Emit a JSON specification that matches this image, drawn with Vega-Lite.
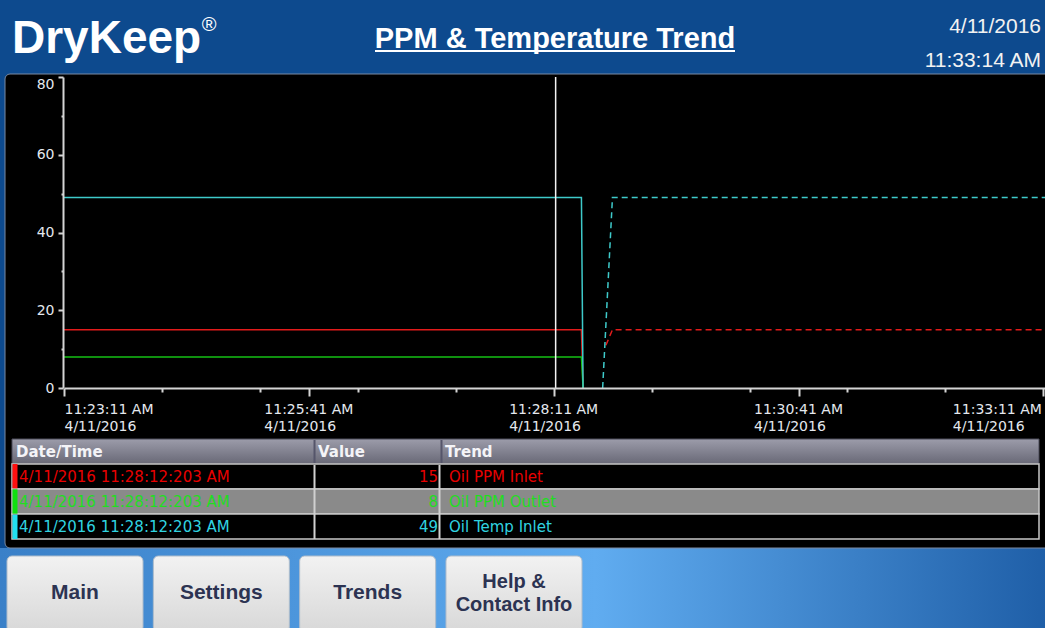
{
  "$schema": "https://vega.github.io/schema/vega-lite/v6.json",
  "width": 1045,
  "height": 628,
  "autosize": {"type": "none"},
  "padding": 0,
  "background": "#0d4a8e",
  "config": {"view": {"stroke": null}},
  "datasets": {
    "series": [
      {"time": "2016-04-11T11:23:11Z", "value": 15, "trend": "Oil PPM Inlet", "segment": "logged"},
      {"time": "2016-04-11T11:28:28Z", "value": 15, "trend": "Oil PPM Inlet", "segment": "logged"},
      {"time": "2016-04-11T11:28:29Z", "value": 0, "trend": "Oil PPM Inlet", "segment": "logged"},
      {"time": "2016-04-11T11:28:43Z", "value": 11, "trend": "Oil PPM Inlet", "segment": "bridged"},
      {"time": "2016-04-11T11:28:47Z", "value": 15, "trend": "Oil PPM Inlet", "segment": "bridged"},
      {"time": "2016-04-11T11:33:12Z", "value": 15, "trend": "Oil PPM Inlet", "segment": "bridged"},
      {"time": "2016-04-11T11:23:11Z", "value": 8, "trend": "Oil PPM Outlet", "segment": "logged"},
      {"time": "2016-04-11T11:28:28Z", "value": 8, "trend": "Oil PPM Outlet", "segment": "logged"},
      {"time": "2016-04-11T11:28:29Z", "value": 0, "trend": "Oil PPM Outlet", "segment": "logged"},
      {"time": "2016-04-11T11:23:11Z", "value": 49, "trend": "Oil Temp Inlet", "segment": "logged"},
      {"time": "2016-04-11T11:28:28Z", "value": 49, "trend": "Oil Temp Inlet", "segment": "logged"},
      {"time": "2016-04-11T11:28:29Z", "value": 0, "trend": "Oil Temp Inlet", "segment": "logged"},
      {"time": "2016-04-11T11:28:41Z", "value": 0, "trend": "Oil Temp Inlet", "segment": "bridged"},
      {"time": "2016-04-11T11:28:47Z", "value": 49, "trend": "Oil Temp Inlet", "segment": "bridged"},
      {"time": "2016-04-11T11:33:12Z", "value": 49, "trend": "Oil Temp Inlet", "segment": "bridged"}
    ],
    "cursor": [{"time": "2016-04-11T11:28:12.203Z"}],
    "readout": [
      {"datetime": "4/11/2016 11:28:12:203 AM", "value": 15, "trend": "Oil PPM Inlet"},
      {"datetime": "4/11/2016 11:28:12:203 AM", "value": 8, "trend": "Oil PPM Outlet"},
      {"datetime": "4/11/2016 11:28:12:203 AM", "value": 49, "trend": "Oil Temp Inlet"}
    ],
    "header": [
      {"brand": "DryKeep", "registered": "®", "title": "PPM & Temperature Trend", "date": "4/11/2016", "clock": "11:33:14 AM"}
    ],
    "nav": [
      {"button": "Main"},
      {"button": "Settings"},
      {"button": "Trends"},
      {"button": "Help &\nContact Info"}
    ]
  },
  "layer": [
    {
      "data": {"values": [{"area": "navigation bar"}]},
      "mark": {"type": "rect", "fill": {"gradient": "linear", "x1": 0, "y1": 0, "x2": 1, "y2": 0, "stops": [{"offset": 0, "color": "#3a80c8"}, {"offset": 0.57, "color": "#60acf0"}, {"offset": 1, "color": "#1f5fa8"}]}},
      "encoding": {
        "y": {"field": "area", "type": "nominal", "scale": {"type": "band", "range": [548, 628], "paddingInner": 0, "paddingOuter": 0}, "axis": null}
      }
    },
    {
      "data": {"values": [{"area": "trend screen"}]},
      "mark": {"type": "rect", "fill": "#000000", "stroke": "#7a8aa3", "strokeWidth": 1, "cornerRadius": 5},
      "encoding": {
        "x": {"field": "area", "type": "nominal", "scale": {"type": "band", "range": [5, 1056], "paddingInner": 0, "paddingOuter": 0}, "axis": null},
        "y": {"field": "area", "type": "nominal", "scale": {"type": "band", "range": [74, 548], "paddingInner": 0, "paddingOuter": 0}, "axis": null}
      }
    },
    {
      "data": {"name": "nav"},
      "mark": {"type": "rect", "fill": {"gradient": "linear", "x1": 0, "y1": 0, "x2": 0, "y2": 1, "stops": [{"offset": 0, "color": "#f2f2f2"}, {"offset": 1, "color": "#d8d8d8"}]}, "stroke": "#aebccb", "strokeWidth": 1, "cornerRadius": 5},
      "encoding": {
        "x": {"field": "button", "type": "nominal", "sort": null, "scale": {"type": "band", "range": [7, 582], "paddingInner": 0.0706, "paddingOuter": 0}, "axis": null},
        "y": {"datum": "navigation", "type": "nominal", "scale": {"type": "band", "domain": ["navigation"], "range": [556, 632], "paddingInner": 0, "paddingOuter": 0}, "axis": null}
      }
    },
    {
      "data": {"name": "nav"},
      "transform": [{"filter": "indexof(datum.button, 'Help') < 0"}],
      "mark": {"type": "text", "font": "Liberation Sans", "fontWeight": "bold", "fontSize": 21, "fill": "#2c3352", "align": "center", "baseline": "middle"},
      "encoding": {
        "x": {"field": "button", "type": "nominal", "scale": {"type": "band", "domain": ["Main", "Settings", "Trends", "Help &\nContact Info"], "range": [7, 582], "paddingInner": 0.0706, "paddingOuter": 0}, "axis": null},
        "y": {"datum": "navigation", "type": "nominal", "scale": {"type": "band", "domain": ["navigation"], "range": [556, 630], "paddingInner": 0, "paddingOuter": 0}, "axis": null},
        "text": {"field": "button", "type": "nominal"}
      }
    },
    {
      "data": {"name": "nav"},
      "transform": [{"filter": "indexof(datum.button, 'Help') >= 0"}],
      "mark": {"type": "text", "font": "Liberation Sans", "fontWeight": "bold", "fontSize": 20, "fill": "#2c3352", "align": "center", "baseline": "middle", "lineBreak": "\n", "lineHeight": 23},
      "encoding": {
        "x": {"field": "button", "type": "nominal", "scale": {"type": "band", "domain": ["Main", "Settings", "Trends", "Help &\nContact Info"], "range": [7, 582], "paddingInner": 0.0706, "paddingOuter": 0}, "axis": null},
        "y": {"datum": "navigation", "type": "nominal", "scale": {"type": "band", "domain": ["navigation"], "range": [556, 608], "paddingInner": 0, "paddingOuter": 0}, "axis": null},
        "text": {"field": "button", "type": "nominal"}
      }
    },
    {
      "layer": [
        {
          "data": {"name": "series"},
          "mark": {"type": "line", "strokeWidth": 1.5, "strokeCap": "butt"},
          "encoding": {
            "x": {
              "field": "time", "type": "temporal",
              "scale": {"type": "utc", "nice": false, "range": [64, 1045],
                "domain": [
                  {"year": 2016, "month": 4, "date": 11, "hours": 11, "minutes": 23, "seconds": 11, "utc": true},
                  {"year": 2016, "month": 4, "date": 11, "hours": 11, "minutes": 33, "seconds": 12, "utc": true}
                ]},
              "axis": {
                "orient": "bottom", "offset": -240, "title": null, "grid": false, "zindex": 2,
                "values": [
                  {"year": 2016, "month": 4, "date": 11, "hours": 11, "minutes": 23, "seconds": 11, "utc": true},
                  {"year": 2016, "month": 4, "date": 11, "hours": 11, "minutes": 24, "seconds": 11, "utc": true},
                  {"year": 2016, "month": 4, "date": 11, "hours": 11, "minutes": 25, "seconds": 11, "utc": true},
                  {"year": 2016, "month": 4, "date": 11, "hours": 11, "minutes": 25, "seconds": 41, "utc": true},
                  {"year": 2016, "month": 4, "date": 11, "hours": 11, "minutes": 26, "seconds": 11, "utc": true},
                  {"year": 2016, "month": 4, "date": 11, "hours": 11, "minutes": 27, "seconds": 11, "utc": true},
                  {"year": 2016, "month": 4, "date": 11, "hours": 11, "minutes": 28, "seconds": 11, "utc": true},
                  {"year": 2016, "month": 4, "date": 11, "hours": 11, "minutes": 29, "seconds": 11, "utc": true},
                  {"year": 2016, "month": 4, "date": 11, "hours": 11, "minutes": 30, "seconds": 11, "utc": true},
                  {"year": 2016, "month": 4, "date": 11, "hours": 11, "minutes": 30, "seconds": 41, "utc": true},
                  {"year": 2016, "month": 4, "date": 11, "hours": 11, "minutes": 31, "seconds": 11, "utc": true},
                  {"year": 2016, "month": 4, "date": 11, "hours": 11, "minutes": 32, "seconds": 11, "utc": true},
                  {"year": 2016, "month": 4, "date": 11, "hours": 11, "minutes": 33, "seconds": 11, "utc": true}
                ],
                "labelExpr": "(utcminutes(datum.value) * 60 + utcseconds(datum.value) - 1391) % 150 === 0 ? [utcFormat(datum.value, '%-I:%M:%S %p'), utcFormat(datum.value, '%-m/%-d/%Y')] : ''",
                "labelFlush": false, "labelOverlap": false, "labelBound": false,
                "labelAlign": "left",
                "labelOffset": {"condition": [{"test": "utcminutes(datum.value) === 23", "value": 0}, {"test": "utcminutes(datum.value) === 33", "value": -91}], "value": -45},
                "labelFont": "DejaVu Sans", "labelFontSize": 14, "labelColor": "#e4e8ee", "labelLineHeight": 17, "labelPadding": 6,
                "domainColor": "#d4d4d4", "domainWidth": 2,
                "tickColor": "#d4d4d4", "tickWidth": 2,
                "tickSize": {"condition": {"test": "(utcminutes(datum.value) * 60 + utcseconds(datum.value) - 1391) % 150 === 0", "value": 8}, "value": 4}
              }
            },
            "y": {
              "field": "value", "type": "quantitative",
              "scale": {"domain": [0, 80], "range": [388, 77], "nice": false, "zero": false},
              "axis": {
                "orient": "left", "offset": -63, "title": null, "grid": false, "zindex": 2,
                "values": [0, 10, 20, 30, 40, 50, 60, 70, 80],
                "labelExpr": "datum.value % 20 === 0 ? datum.label : ''",
                "labelBaseline": {"condition": {"test": "datum.value === 80", "value": "top"}, "value": "middle"},
                "labelFont": "DejaVu Sans", "labelFontSize": 14, "labelColor": "#e4e8ee", "labelPadding": 4,
                "domainColor": "#d4d4d4", "domainWidth": 2,
                "tickColor": "#d4d4d4", "tickWidth": 2,
                "tickSize": {"condition": {"test": "datum.value % 20 === 0", "value": 5}, "value": 2}
              }
            },
            "color": {"field": "trend", "type": "nominal", "scale": {"domain": ["Oil PPM Inlet", "Oil PPM Outlet", "Oil Temp Inlet"], "range": ["#e21b1b", "#14c014", "#3ecaca"]}, "legend": null},
            "strokeDash": {"field": "segment", "type": "nominal", "scale": {"domain": ["logged", "bridged"], "range": [[1, 0], [6, 4]]}, "legend": null}
          }
        },
        {
          "data": {"name": "cursor"},
          "mark": {"type": "rule", "color": "#f4f4f4", "strokeWidth": 1.5},
          "encoding": {
            "x": {"field": "time", "type": "temporal"},
            "y": {"datum": 80},
            "y2": {"datum": 0}
          }
        }
      ]
    },
    {
      "data": {"values": [{"part": "column headings"}]},
      "mark": {"type": "rect", "fill": {"gradient": "linear", "x1": 0, "y1": 0, "x2": 0, "y2": 1, "stops": [{"offset": 0, "color": "#9c9caa"}, {"offset": 1, "color": "#686876"}]}, "stroke": "#4a4a58", "strokeWidth": 1},
      "encoding": {
        "x": {"field": "part", "type": "nominal", "scale": {"type": "band", "range": [12, 1039], "paddingInner": 0, "paddingOuter": 0}, "axis": null},
        "y": {"field": "part", "type": "nominal", "scale": {"type": "band", "range": [439, 464], "paddingInner": 0, "paddingOuter": 0}, "axis": null}
      }
    },
    {
      "data": {"values": [{"boundary": "Date/Time | Value"}, {"boundary": "Value | Trend"}]},
      "mark": {"type": "rect", "fill": "#55556a"},
      "encoding": {
        "x": {"field": "boundary", "type": "nominal", "scale": {"type": "band", "range": [313.5, 442.5], "paddingInner": 0.984, "paddingOuter": 0}, "axis": null},
        "y": {"datum": "column headings", "type": "nominal", "scale": {"type": "band", "domain": ["column headings"], "range": [440, 463], "paddingInner": 0, "paddingOuter": 0}, "axis": null}
      }
    },
    {
      "data": {"values": [{"heading": "Date/Time"}]},
      "mark": {"type": "text", "font": "DejaVu Sans", "fontWeight": "bold", "fontSize": 15, "fill": "#f4f4f8", "align": "left", "baseline": "middle"},
      "encoding": {
        "x": {"field": "heading", "type": "nominal", "bandPosition": 0, "scale": {"type": "band", "range": [16, 300], "paddingInner": 0, "paddingOuter": 0}, "axis": null},
        "y": {"field": "heading", "type": "nominal", "scale": {"type": "band", "range": [439, 465], "paddingInner": 0, "paddingOuter": 0}, "axis": null},
        "text": {"field": "heading", "type": "nominal"}
      }
    },
    {
      "data": {"values": [{"heading": "Value"}]},
      "mark": {"type": "text", "font": "DejaVu Sans", "fontWeight": "bold", "fontSize": 15, "fill": "#f4f4f8", "align": "left", "baseline": "middle"},
      "encoding": {
        "x": {"field": "heading", "type": "nominal", "bandPosition": 0, "scale": {"type": "band", "range": [318, 430], "paddingInner": 0, "paddingOuter": 0}, "axis": null},
        "y": {"field": "heading", "type": "nominal", "scale": {"type": "band", "range": [439, 465], "paddingInner": 0, "paddingOuter": 0}, "axis": null},
        "text": {"field": "heading", "type": "nominal"}
      }
    },
    {
      "data": {"values": [{"heading": "Trend"}]},
      "mark": {"type": "text", "font": "DejaVu Sans", "fontWeight": "bold", "fontSize": 15, "fill": "#f4f4f8", "align": "left", "baseline": "middle"},
      "encoding": {
        "x": {"field": "heading", "type": "nominal", "bandPosition": 0, "scale": {"type": "band", "range": [445, 1000], "paddingInner": 0, "paddingOuter": 0}, "axis": null},
        "y": {"field": "heading", "type": "nominal", "scale": {"type": "band", "range": [439, 465], "paddingInner": 0, "paddingOuter": 0}, "axis": null},
        "text": {"field": "heading", "type": "nominal"}
      }
    },
    {
      "data": {"name": "readout"},
      "mark": {"type": "rect", "stroke": "#c8c8c8", "strokeWidth": 1.5},
      "encoding": {
        "x": {"datum": "readout table", "type": "nominal", "scale": {"type": "band", "domain": ["readout table"], "range": [12, 1039], "paddingInner": 0, "paddingOuter": 0}, "axis": null},
        "y": {"field": "trend", "type": "nominal", "sort": null, "scale": {"type": "band", "domain": ["Oil PPM Inlet", "Oil PPM Outlet", "Oil Temp Inlet"], "range": [464, 539], "paddingInner": 0, "paddingOuter": 0}, "axis": null},
        "color": {"field": "trend", "type": "nominal", "scale": {"domain": ["Oil PPM Inlet", "Oil PPM Outlet", "Oil Temp Inlet"], "range": ["#000000", "#8a8a8a", "#000000"]}, "legend": null}
      }
    },
    {
      "data": {"name": "readout"},
      "mark": {"type": "rect"},
      "encoding": {
        "x": {"datum": "trend marker", "type": "nominal", "scale": {"type": "band", "domain": ["trend marker"], "range": [12.5, 17.5], "paddingInner": 0, "paddingOuter": 0}, "axis": null},
        "y": {"field": "trend", "type": "nominal", "sort": null, "scale": {"type": "band", "domain": ["Oil PPM Inlet", "Oil PPM Outlet", "Oil Temp Inlet"], "range": [464, 539], "paddingInner": 0.04, "paddingOuter": 0}, "axis": null},
        "color": {"field": "trend", "type": "nominal", "scale": {"domain": ["Oil PPM Inlet", "Oil PPM Outlet", "Oil Temp Inlet"], "range": ["#ff1010", "#10e010", "#22e0f0"]}, "legend": null}
      }
    },
    {
      "data": {"values": [{"boundary": "Date/Time | Value"}, {"boundary": "Value | Trend"}]},
      "mark": {"type": "rect", "fill": "#d0d0d0"},
      "encoding": {
        "x": {"field": "boundary", "type": "nominal", "scale": {"type": "band", "range": [313.5, 440.5], "paddingInner": 0.984, "paddingOuter": 0}, "axis": null},
        "y": {"datum": "readout rows", "type": "nominal", "scale": {"type": "band", "domain": ["readout rows"], "range": [465, 539], "paddingInner": 0, "paddingOuter": 0}, "axis": null}
      }
    },
    {
      "data": {"name": "readout"},
      "mark": {"type": "text", "font": "DejaVu Sans", "fontSize": 15, "align": "left", "baseline": "middle"},
      "encoding": {
        "x": {"datum": "Date/Time", "type": "nominal", "bandPosition": 0, "scale": {"type": "band", "domain": ["Date/Time"], "range": [19, 300], "paddingInner": 0, "paddingOuter": 0}, "axis": null},
        "y": {"field": "trend", "type": "nominal", "sort": null, "scale": {"type": "band", "domain": ["Oil PPM Inlet", "Oil PPM Outlet", "Oil Temp Inlet"], "range": [464, 539], "paddingInner": 0, "paddingOuter": 0}, "axis": null},
        "color": {"field": "trend", "type": "nominal", "scale": {"domain": ["Oil PPM Inlet", "Oil PPM Outlet", "Oil Temp Inlet"], "range": ["#e80000", "#22dd22", "#30d4e0"]}, "legend": null},
        "text": {"field": "datetime", "type": "nominal"}
      }
    },
    {
      "data": {"name": "readout"},
      "mark": {"type": "text", "font": "DejaVu Sans", "fontSize": 15, "align": "right", "baseline": "middle"},
      "encoding": {
        "x": {"datum": "Value", "type": "nominal", "bandPosition": 1, "scale": {"type": "band", "domain": ["Value"], "range": [315, 438], "paddingInner": 0, "paddingOuter": 0}, "axis": null},
        "y": {"field": "trend", "type": "nominal", "sort": null, "scale": {"type": "band", "domain": ["Oil PPM Inlet", "Oil PPM Outlet", "Oil Temp Inlet"], "range": [464, 539], "paddingInner": 0, "paddingOuter": 0}, "axis": null},
        "color": {"field": "trend", "type": "nominal", "scale": {"domain": ["Oil PPM Inlet", "Oil PPM Outlet", "Oil Temp Inlet"], "range": ["#e80000", "#22dd22", "#30d4e0"]}, "legend": null},
        "text": {"field": "value", "type": "quantitative"}
      }
    },
    {
      "data": {"name": "readout"},
      "mark": {"type": "text", "font": "DejaVu Sans", "fontSize": 15, "align": "left", "baseline": "middle"},
      "encoding": {
        "x": {"datum": "Trend", "type": "nominal", "bandPosition": 0, "scale": {"type": "band", "domain": ["Trend"], "range": [449, 1000], "paddingInner": 0, "paddingOuter": 0}, "axis": null},
        "y": {"field": "trend", "type": "nominal", "sort": null, "scale": {"type": "band", "domain": ["Oil PPM Inlet", "Oil PPM Outlet", "Oil Temp Inlet"], "range": [464, 539], "paddingInner": 0, "paddingOuter": 0}, "axis": null},
        "color": {"field": "trend", "type": "nominal", "scale": {"domain": ["Oil PPM Inlet", "Oil PPM Outlet", "Oil Temp Inlet"], "range": ["#e80000", "#22dd22", "#30d4e0"]}, "legend": null},
        "text": {"field": "trend", "type": "nominal"}
      }
    },
    {
      "data": {"name": "header"},
      "mark": {"type": "text", "font": "Liberation Sans", "fontWeight": "bold", "fontSize": 46, "fill": "#ffffff", "align": "left", "baseline": "middle"},
      "encoding": {
        "x": {"field": "brand", "type": "nominal", "bandPosition": 0, "scale": {"type": "band", "range": [12, 212], "paddingInner": 0, "paddingOuter": 0}, "axis": null},
        "y": {"field": "brand", "type": "nominal", "scale": {"type": "band", "range": [22.7, 55.7], "paddingInner": 0, "paddingOuter": 0}, "axis": null},
        "text": {"field": "brand", "type": "nominal"}
      }
    },
    {
      "data": {"name": "header"},
      "mark": {"type": "text", "font": "Liberation Sans", "fontSize": 20, "fill": "#ffffff", "align": "center", "baseline": "middle"},
      "encoding": {
        "x": {"field": "registered", "type": "nominal", "scale": {"type": "band", "range": [201, 217], "paddingInner": 0, "paddingOuter": 0}, "axis": null},
        "y": {"field": "registered", "type": "nominal", "scale": {"type": "band", "range": [17.2, 32.2], "paddingInner": 0, "paddingOuter": 0}, "axis": null},
        "text": {"field": "registered", "type": "nominal"}
      }
    },
    {
      "data": {"name": "header"},
      "mark": {"type": "text", "font": "Liberation Sans", "fontWeight": "bold", "fontSize": 29, "fill": "#ffffff", "align": "center", "baseline": "middle"},
      "encoding": {
        "x": {"field": "title", "type": "nominal", "scale": {"type": "band", "range": [375, 735], "paddingInner": 0, "paddingOuter": 0}, "axis": null},
        "y": {"field": "title", "type": "nominal", "scale": {"type": "band", "range": [29.2, 49.6], "paddingInner": 0, "paddingOuter": 0}, "axis": null},
        "text": {"field": "title", "type": "nominal"}
      }
    },
    {
      "data": {"name": "header"},
      "mark": {"type": "rect", "fill": "#ffffff"},
      "encoding": {
        "x": {"field": "title", "type": "nominal", "scale": {"type": "band", "range": [375, 735], "paddingInner": 0, "paddingOuter": 0}, "axis": null},
        "y": {"field": "title", "type": "nominal", "scale": {"type": "band", "range": [50, 52], "paddingInner": 0, "paddingOuter": 0}, "axis": null}
      }
    },
    {
      "data": {"name": "header"},
      "mark": {"type": "text", "font": "Liberation Sans", "fontSize": 21, "fill": "#f2f2f2", "align": "right", "baseline": "middle"},
      "encoding": {
        "x": {"field": "date", "type": "nominal", "bandPosition": 1, "scale": {"type": "band", "range": [900, 1041], "paddingInner": 0, "paddingOuter": 0}, "axis": null},
        "y": {"field": "date", "type": "nominal", "scale": {"type": "band", "range": [19.2, 34.2], "paddingInner": 0, "paddingOuter": 0}, "axis": null},
        "text": {"field": "date", "type": "nominal"}
      }
    },
    {
      "data": {"name": "header"},
      "mark": {"type": "text", "font": "Liberation Sans", "fontSize": 21, "fill": "#f2f2f2", "align": "right", "baseline": "middle"},
      "encoding": {
        "x": {"field": "clock", "type": "nominal", "bandPosition": 1, "scale": {"type": "band", "range": [900, 1041], "paddingInner": 0, "paddingOuter": 0}, "axis": null},
        "y": {"field": "clock", "type": "nominal", "scale": {"type": "band", "range": [53.2, 68.2], "paddingInner": 0, "paddingOuter": 0}, "axis": null},
        "text": {"field": "clock", "type": "nominal"}
      }
    }
  ],
  "resolve": {"scale": {"x": "independent", "y": "independent", "color": "independent"}}
}
